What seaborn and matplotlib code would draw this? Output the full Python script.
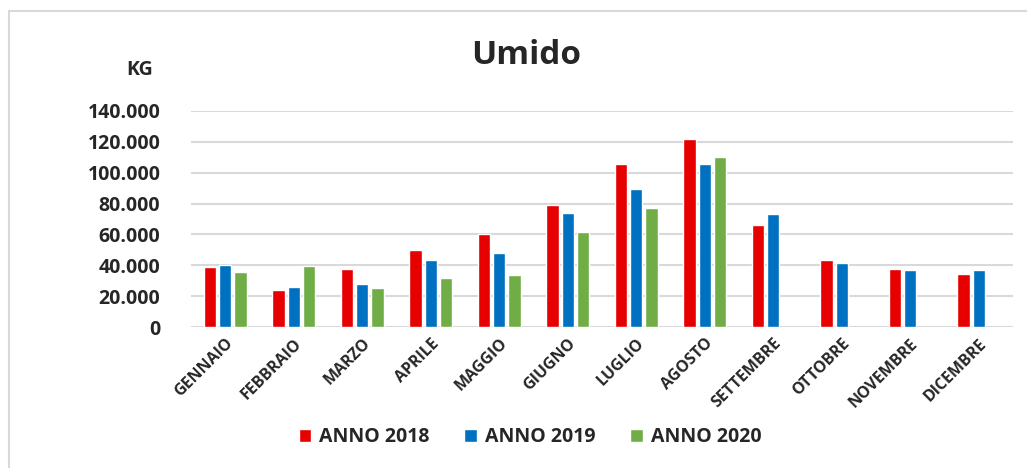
import numpy as np
import pandas as pd
import seaborn as sns
import matplotlib.pyplot as plt
from matplotlib.ticker import FuncFormatter
from matplotlib.lines import Line2D

# data
mesi = ["GENNAIO", "FEBBRAIO", "MARZO", "APRILE", "MAGGIO", "GIUGNO",
        "LUGLIO", "AGOSTO", "SETTEMBRE", "OTTOBRE", "NOVEMBRE", "DICEMBRE"]
anni = ["ANNO 2018", "ANNO 2019", "ANNO 2020"]
anno_2018 = [39200, 24100, 37900, 50000, 60100, 79300, 105400, 121500, 65900, 43300, 37700, 34300]
anno_2019 = [40100, 25800, 27800, 43300, 47800, 73700, 89200, 105400, 73000, 41400, 36800, 37000]
anno_2020 = [35700, 39800, 25600, 31900, 33600, 61600, 77100, 109900, np.nan, np.nan, np.nan, np.nan]
colori = ["#E60000", "#0070C0", "#70AD47"]

rows = []
for anno, valori in zip(anni, [anno_2018, anno_2019, anno_2020]):
    for m, v in zip(mesi, valori):
        rows.append({"mese": m, "anno": anno, "kg": v})
df = pd.DataFrame(rows)

sns.set_theme(style="white")
plt.rcParams["font.family"] = ["Open Sans", "DejaVu Sans"]
W = "bold"

fig = plt.figure(figsize=(10.27, 4.68), dpi=100)
ax = fig.add_axes([191 / 1027, 1 - 327.3 / 468, (1013 - 191) / 1027, (327.3 - 110.7) / 468])

sns.barplot(data=df.dropna(), x="mese", y="kg", hue="anno", order=mesi, hue_order=anni,
            palette=dict(zip(anni, colori)), width=0.67, gap=0.2, ax=ax,
            errorbar=None, saturation=1)

ax.set_ylim(0, 140000)
ax.set_xlim(-0.5, 11.5)
ax.set_yticks(np.arange(0, 140001, 20000))
ax.yaxis.set_major_formatter(FuncFormatter(lambda v, p: f"{int(v):,}".replace(",", ".")))
ax.grid(axis="y", color="#D9D9D9", linewidth=1.5)
ax.set_axisbelow(True)
for s in ax.spines.values():
    s.set_visible(False)
ax.set_xlabel("")
ax.set_ylabel("")
ax.tick_params(axis="y", length=0, pad=22, labelsize=14)
ax.tick_params(axis="x", length=0, pad=6)
for lab in ax.get_yticklabels():
    lab.set_fontweight(W)
ax.set_xticks(range(len(mesi)))
ax.set_xticklabels(mesi, rotation=45, ha="right", rotation_mode="anchor",
                   fontsize=11.5, fontweight=W)

handles, labels = ax.get_legend_handles_labels()
ax.get_legend().remove()
fig.legend(handles, labels, loc="center", bbox_to_anchor=(530 / 1027, 1 - 437 / 468),
           ncol=3, frameon=False, prop={"weight": W, "size": 14},
           handlelength=0.65, handleheight=0.65, handletextpad=0.4, columnspacing=1.8)

fig.text(526 / 1027, 1 - 56 / 468, "Umido", ha="center", va="center",
         fontsize=24, fontweight=W)
fig.text(140 / 1027, 1 - 70 / 468, "KG", ha="center", va="center",
         fontsize=14, fontweight=W)

# outer chart border
fig.add_artist(Line2D([9 / 1027, 1], [1 - 11 / 468] * 2, color="#D9D9D9", lw=1.5,
                      transform=fig.transFigure))
fig.add_artist(Line2D([9 / 1027] * 2, [0, 1 - 11 / 468], color="#D9D9D9", lw=1.5,
                      transform=fig.transFigure))

fig.savefig("out.png", dpi=100, facecolor="white")
